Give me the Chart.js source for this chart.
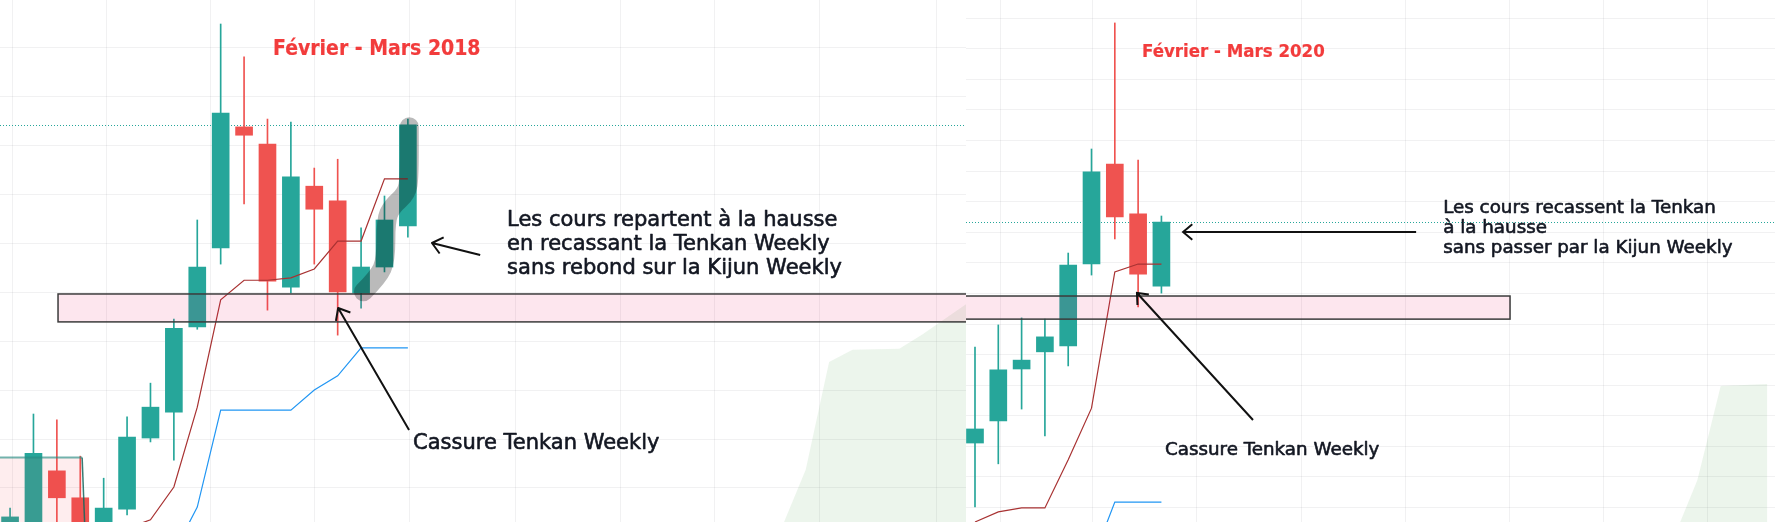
<!DOCTYPE html>
<html lang="fr">
<head>
<meta charset="utf-8">
<title>Février - Mars 2018 / Février - Mars 2020</title>
<script src="https://cdn.jsdelivr.net/npm/chart.js@4.4.1/dist/chart.umd.min.js"></script>
<style>
  html, body { margin: 0; padding: 0; background: #fff; }
  #wrap { position: relative; width: 1775px; height: 522px; overflow: hidden; }
  .panel { position: absolute; top: 0; height: 522px; }
  #left { left: 0; width: 966px; }
  #right { left: 966px; width: 809px; }
</style>
</head>
<body>
<div id="wrap">
  <div class="panel" id="left"><canvas id="chartLeft"></canvas></div>
  <div class="panel" id="right"><canvas id="chartRight"></canvas></div>
</div>
<script>
// Panneau gauche : février - mars 2018, bougies hebdo (index de semaine)
const leftWeeks = [0, 1, 2, 3, 4, 5, 6, 7, 8, 9, 10, 11, 12, 13, 14, 15, 16, 17];
const leftOpen  = [1.0, 1.5, 13.5, 8.0, 2.0, 5.7, 20.2, 25.5, 42.9, 59.0, 83.7, 80.2, 51.0, 71.6, 68.6, 49.8, 55.1, 63.5];
const leftHigh  = [5.9, 25.1, 23.9, 16.5, 12.0, 24.5, 31.4, 44.5, 64.7, 104.7, 98.0, 85.3, 84.7, 75.3, 77.1, 63.1, 69.6, 85.3];
const leftLow   = [-2, -2, -2, -2, -2, 4.5, 19.4, 15.7, 42.4, 55.7, 68.0, 46.3, 49.8, 55.7, 41.2, 46.7, 54.1, 61.2];
const leftClose = [4.1, 17.1, 8.0, 2.5, 5.9, 20.4, 26.5, 42.6, 55.1, 86.5, 82.0, 52.2, 73.5, 66.9, 50.0, 55.1, 64.7, 84.1];
const leftTenkan = [null, null, null, null, null, 1.8, 3.5, 10.2, 26.5, 48.4, 52.4, 52.4, 52.9, 54.7, 60.4, 60.4, 73.1, 73.1];
const leftKijun  = [null, null, null, null, null, null, null, -3.1, 6.1, 25.9, 25.9, 25.9, 25.9, 30.0, 32.9, 38.6, 38.6, 38.6];
const leftCloudWeeks = [32, 33, 34, 35, 36, 37, 38, 39, 40, 41];
const leftCloudTop   = [-8.2, 2.2, 13.7, 35.7, 38.2, 38.3, 38.4, 41.4, 44.7, 48.0];
const leftGridX = [2.1, 6.1, 11, 15, 19.1, 24.1, 28.1, 32.1, 37.1];
const leftGridY = [10, 20, 30, 40, 50, 60, 70, 80, 90, 100];

// Panneau droit : février - mars 2020
const rightWeeks = [0, 1, 2, 3, 4, 5, 6, 7, 8];
const rightOpen  = [31.1, 38.3, 55.3, 60.9, 62.8, 89.6, 122.3, 106.0, 82.4];
const rightHigh  = [62.5, 69.7, 72.0, 71.6, 93.2, 127.2, 168.4, 123.6, 105.3];
const rightLow   = [10.2, 24.3, 42.2, 33.4, 56.3, 86.0, 97.8, 75.6, 80.1];
const rightClose = [35.7, 55.0, 58.2, 65.8, 89.3, 119.7, 105.0, 86.3, 103.3];
const rightTenkan = [5.3, 8.6, 9.9, 9.9, 25.6, 42.5, 87.0, 89.6, 89.6];
const rightKijun  = [null, null, null, null, null, -8, 11.8, 11.8, 11.8];
const rightCloudWeeks = [29, 30, 31, 32, 33, 34];
const rightCloudTop   = [-15, 0.4, 19.0, 49.7, 50.1, 50.4];
const rightGridX = [3.05, 7, 12, 16, 20.95, 24.95, 28.95, 33.95];
const rightGridY = [10, 20, 30, 40, 50, 60, 70, 80, 90, 100, 110, 120, 130, 140, 150, 160, 170];

// Textes
const leftTitle = "Février - Mars 2018";
const leftNote = ["Les cours repartent à la hausse", "en recassant la Tenkan Weekly", "sans rebond sur la Kijun Weekly"];
const rightTitle = "Février - Mars 2020";
const rightNote = ["Les cours recassent la Tenkan", "à la hausse", "sans passer par la Kijun Weekly"];
const breakLabel = "Cassure Tenkan Weekly";

const UP = "#26a69a";
const DOWN = "#ef5350";
const GRID = "rgba(42, 46, 57, 0.065)";
const INK = "#131722";

function toPoints(xs, ys) {
  return xs.map((x, i) => ({ x, y: ys[i] })).filter((p) => p.y !== null);
}

function arrow(ctx, x0, y0, x1, y1, head) {
  const a = Math.atan2(y0 - y1, x0 - x1);
  const spread = (40 * Math.PI) / 180;
  ctx.beginPath();
  ctx.moveTo(x0, y0);
  ctx.lineTo(x1, y1);
  ctx.moveTo(x1 + head * Math.cos(a - spread), y1 + head * Math.sin(a - spread));
  ctx.lineTo(x1, y1);
  ctx.lineTo(x1 + head * Math.cos(a + spread), y1 + head * Math.sin(a + spread));
  ctx.stroke();
}

// texte un peu plus appuyé, comme la police de l'original
function heavyText(ctx, text, x, y, weight) {
  ctx.fillText(text, x, y);
  ctx.lineWidth = weight;
  ctx.strokeText(text, x, y);
}

// Dessins à main levée (zones, flèches, textes) posés en coordonnées de données
function overlay(p) {
  return {
    id: "overlay",
    beforeDatasetsDraw(chart) {
      const { ctx, chartArea: a, scales: { y } } = chart;
      const yy = Math.round(y.getPixelForValue(p.close[p.close.length - 1])) + 0.5;
      ctx.save();
      ctx.strokeStyle = UP;
      ctx.lineWidth = 1;
      ctx.setLineDash([1, 2]);
      ctx.beginPath();
      ctx.moveTo(a.left, yy);
      ctx.lineTo(a.right, yy);
      ctx.stroke();
      ctx.restore();
    },
    afterDatasetsDraw(chart) {
      const { ctx, chartArea: a, scales: { x, y } } = chart;
      const X = (v) => x.getPixelForValue(v);
      const Y = (v) => y.getPixelForValue(v);
      ctx.save();
      ctx.beginPath();
      ctx.rect(a.left, a.top, a.width, a.height);
      ctx.clip();

      if (p.box) {
        const b = p.box;
        ctx.fillStyle = "rgba(242, 54, 69, 0.09)";
        ctx.fillRect(X(b.x0), Y(b.y1), X(b.x1) - X(b.x0), Y(b.y0) - Y(b.y1));
        ctx.strokeStyle = "rgba(38, 140, 130, 0.65)";
        ctx.lineWidth = 2;
        ctx.beginPath();
        ctx.moveTo(X(b.x0), Y(b.y1));
        ctx.lineTo(X(b.x1), Y(b.y1));
        ctx.stroke();
        ctx.strokeStyle = "rgba(20, 100, 90, 0.85)";
        ctx.lineWidth = 1.5;
        ctx.beginPath();
        ctx.moveTo(X(b.x1), Y(b.y1));
        ctx.lineTo(X(b.x1 + 0.17), Y(b.y0));
        ctx.stroke();
      }

      const z = p.zone;
      ctx.fillStyle = "rgba(233, 30, 99, 0.11)";
      ctx.fillRect(X(z.x0), Y(z.y1), X(z.x1) - X(z.x0), Y(z.y0) - Y(z.y1));
      ctx.strokeStyle = "#3b3b3b";
      ctx.lineWidth = 1.5;
      ctx.strokeRect(X(z.x0), Y(z.y1), X(z.x1) - X(z.x0), Y(z.y0) - Y(z.y1));

      if (p.stroke) {
        // trait de surligneur gris, lissé par des courbes entre les points milieux
        const pts = p.stroke.x.map((v, i) => [X(v), Y(p.stroke.y[i])]);
        ctx.strokeStyle = "rgba(0, 0, 0, 0.27)";
        ctx.lineWidth = 19;
        ctx.lineCap = "round";
        ctx.lineJoin = "round";
        ctx.beginPath();
        ctx.moveTo(pts[0][0], pts[0][1]);
        for (let i = 1; i < pts.length - 1; i++) {
          const mx = (pts[i][0] + pts[i + 1][0]) / 2;
          const my = (pts[i][1] + pts[i + 1][1]) / 2;
          ctx.quadraticCurveTo(pts[i][0], pts[i][1], mx, my);
        }
        const last = pts[pts.length - 1];
        ctx.lineTo(last[0], last[1]);
        ctx.stroke();
        ctx.lineCap = "butt";
      }

      ctx.strokeStyle = "#111";
      ctx.lineWidth = 2;
      p.arrows.forEach((r) => arrow(ctx, X(r.from[0]), Y(r.from[1]), X(r.to[0]), Y(r.to[1]), p.head));

      ctx.textAlign = "left";
      ctx.textBaseline = "alphabetic";
      ctx.lineJoin = "round";
      ctx.fillStyle = "#f23c3c";
      ctx.strokeStyle = "#f23c3c";
      ctx.font = `bold ${p.titleSize}px "DejaVu Sans Condensed", "DejaVu Sans", sans-serif`;
      heavyText(ctx, p.title.text, X(p.title.x), Y(p.title.y), 0.2);

      ctx.fillStyle = INK;
      ctx.strokeStyle = INK;
      ctx.font = `${p.textSize}px "DejaVu Sans", sans-serif`;
      p.note.lines.forEach((t, i) => heavyText(ctx, t, X(p.note.x), Y(p.note.y) + i * p.note.step, 0.6));
      heavyText(ctx, p.label.text, X(p.label.x), Y(p.label.y), 0.6);
      ctx.restore();
    },
  };
}

function drawPanel(canvasId, p) {
  const colorOf = (c) => (p.close[c.dataIndex] >= p.open[c.dataIndex] ? UP : DOWN);
  const gridTicks = (values) => (scale) => {
    scale.ticks = values.map((v) => ({ value: v }));
  };

  new Chart(document.getElementById(canvasId), {
    type: "bar",
    data: {
      datasets: [
        {
          type: "line",
          label: "Nuage",
          data: toPoints(p.cloudWeeks, p.cloudTop),
          fill: "start",
          backgroundColor: "rgba(67, 160, 71, 0.1)",
          borderWidth: 0,
          pointRadius: 0,
          order: 6,
        },
        {
          label: "Mèches",
          data: p.weeks.map((w, i) => ({ x: w, y: [p.low[i], p.high[i]] })),
          backgroundColor: colorOf,
          barThickness: 1,
          grouped: false,
          order: 5,
        },
        {
          label: "Corps",
          data: p.weeks.map((w, i) => ({ x: w, y: [p.open[i], p.close[i]] })),
          backgroundColor: colorOf,
          barThickness: 17,
          grouped: false,
          order: 4,
        },
        {
          type: "line",
          label: "Kijun",
          data: toPoints(p.weeks, p.kijun),
          borderColor: "#2196f3",
          borderWidth: 1.2,
          pointRadius: 0,
          fill: false,
          order: 2,
        },
        {
          type: "line",
          label: "Tenkan",
          data: toPoints(p.weeks, p.tenkan),
          borderColor: "#a83232",
          borderWidth: 1.2,
          pointRadius: 0,
          fill: false,
          order: 1,
        },
      ],
    },
    options: {
      responsive: true,
      maintainAspectRatio: false,
      animation: false,
      layout: { padding: 0 },
      plugins: { legend: { display: false }, tooltip: { enabled: false } },
      scales: {
        x: {
          type: "linear",
          min: p.xMin,
          max: p.xMax,
          offset: false,
          afterBuildTicks: gridTicks(p.gridX),
          ticks: { display: false },
          grid: { color: GRID, drawTicks: false },
          border: { display: false },
        },
        y: {
          type: "linear",
          min: p.yMin,
          max: p.yMax,
          afterBuildTicks: gridTicks(p.gridY),
          ticks: { display: false },
          grid: { color: GRID, drawTicks: false },
          border: { display: false },
        },
      },
    },
    plugins: [overlay(p)],
  });
}

drawPanel("chartLeft", {
  weeks: leftWeeks, open: leftOpen, high: leftHigh, low: leftLow, close: leftClose,
  tenkan: leftTenkan, kijun: leftKijun, cloudWeeks: leftCloudWeeks, cloudTop: leftCloudTop,
  gridX: leftGridX, gridY: leftGridY,
  xMin: -0.43, xMax: 40.85, yMin: 3.06, yMax: 109.6,
  zone: { x0: 2.05, x1: 42, y0: 43.9, y1: 49.6 },
  box: { x0: -1, x1: 3.08, y0: -5, y1: 16.2 },
  stroke: {
    x: [15.10, 15.74, 16.06, 16.06, 16.31, 16.95, 17.06, 17.06],
    y: [50.06, 53.12, 56.53, 64.69, 67.41, 70.14, 73.53, 83.73],
  },
  arrows: [
    { from: [20.09, 57.55], to: [18.03, 60.0] },
    { from: [17.05, 21.84], to: [14.02, 46.73] },
  ],
  head: 13,
  title: { text: leftTitle, x: 11.24, y: 98.37 },
  note: { lines: leftNote, x: 21.24, y: 63.47, step: 24 },
  label: { text: breakLabel, x: 17.22, y: 17.96 },
  titleSize: 21,
  textSize: 21,
});

drawPanel("chartRight", {
  weeks: rightWeeks, open: rightOpen, high: rightHigh, low: rightLow, close: rightClose,
  tenkan: rightTenkan, kijun: rightKijun, cloudWeeks: rightCloudWeeks, cloudTop: rightCloudTop,
  gridX: rightGridX, gridY: rightGridY,
  xMin: -0.386, xMax: 34.33, yMin: 5.29, yMax: 175.9,
  zone: { x0: -1, x1: 22.96, y0: 71.6, y1: 79.15 },
  box: null,
  stroke: null,
  arrows: [
    { from: [18.93, 100.07], to: [8.93, 100.07] },
    { from: [11.93, 38.63], to: [6.95, 80.13] },
  ],
  head: 12,
  title: { text: rightTitle, x: 7.17, y: 157.25 },
  note: { lines: rightNote, x: 20.09, y: 106.18, step: 20 },
  label: { text: breakLabel, x: 8.15, y: 27.19 },
  titleSize: 18.5,
  textSize: 18.3,
});
</script>
</body>
</html>
